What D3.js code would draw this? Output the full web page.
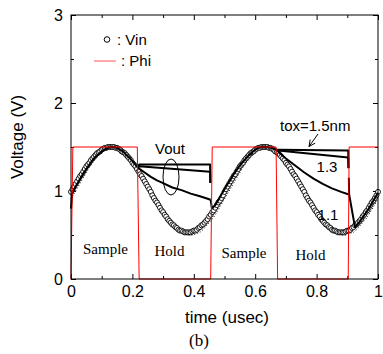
<!DOCTYPE html>
<html>
<head>
<meta charset="utf-8">
<script src="https://cdn.jsdelivr.net/npm/d3@7"></script>
<style>
  body { margin: 0; background: #fff; }
  svg { display: block; }
  .tick text { font-family: "Liberation Sans", Arial, sans-serif; font-size: 16px; fill: #000; }
</style>
</head>
<body>
<svg id="chart" width="383" height="354"></svg>
<script>
// ---- data ----
// Vin (circles), one point every 0.005 usec from t = 0 to t = 1
var vinStep = 0.005;
var vinVolt = [
  0.99,1.02,1.05,1.08,1.11,1.14,1.17,1.19,1.22,1.25,1.28,1.30,1.32,1.35,1.37,1.39,1.41,1.43,1.44,1.45,1.47,1.48,1.49,1.49,1.50,1.50,
  1.50,1.50,1.50,1.49,1.49,1.48,1.47,1.45,1.44,1.43,1.41,1.39,1.37,1.35,1.32,1.30,1.28,1.25,1.22,1.19,1.17,1.14,1.11,1.08,1.05,1.02,0.99,0.95,0.92,0.89,0.87,0.84,0.81,0.78,0.76,0.73,0.71,0.68,0.66,0.64,0.62,0.61,0.59,0.58,0.56,0.55,0.55,0.54,0.53,0.53,0.53,
  0.53,0.53,0.54,0.55,0.55,0.56,0.58,0.59,0.61,0.62,0.64,0.66,0.68,0.71,0.73,0.76,0.78,0.81,0.84,0.87,0.89,0.92,0.95,0.99,1.02,1.05,1.08,1.11,1.14,1.17,1.19,1.22,1.25,1.28,1.30,1.32,1.35,1.37,1.39,1.41,1.43,1.44,1.45,1.47,1.48,1.49,1.49,1.50,1.50,1.50,
  1.50,1.50,1.49,1.49,1.48,1.47,1.45,1.44,1.43,1.41,1.39,1.37,1.35,1.32,1.30,1.28,1.25,1.22,1.19,1.17,1.14,1.11,1.08,1.05,1.02,0.99,0.95,0.92,0.89,0.87,0.84,0.81,0.78,0.76,0.73,0.71,0.68,0.66,0.64,0.62,0.61,0.59,0.58,0.56,0.55,0.55,0.54,0.53,0.53,0.53,
  0.53,0.53,0.54,0.55,0.55,0.56,0.58,0.59,0.61,0.62,0.64,0.66,0.68,0.71,0.73,0.76,0.78,0.81,0.84,0.87,0.89,0.92,0.95,0.99
];

// dotted curve, one point every 0.01 usec
var dotStep = 0.01;
var dotVolt = [
  0.91,0.97,1.03,1.09,1.15,1.21,1.27,1.32,1.36,1.40,1.44,1.47,1.48,1.50,1.50,
  1.50,1.48,1.47,1.44,1.40,1.36,1.32,1.27,1.21,1.15,1.09,1.03,0.97,0.91,0.85,0.79,0.73,0.68,0.64,0.60,0.56,0.53,0.52,0.50,0.50,
  0.50,0.52,0.53,0.56,0.60,0.64,0.68,0.73,0.79,0.85,0.91,0.97,1.03,1.09,1.15,1.21,1.27,1.32,1.36,1.40,1.44,1.47,1.48,1.50,1.50,
  1.50,1.48,1.47,1.44,1.40,1.36,1.32,1.27,1.21,1.15,1.09,1.03,0.97,0.91,0.85,0.79,0.73,0.68,0.64,0.60,0.56,0.53,0.52,0.50,0.50,
  0.50,0.52,0.53,0.56,0.60,0.64,0.68,0.73,0.79,0.85,0.91
];

// Phi clock
var phiTime = [0, 0.006, 0.216, 0.222, 0.455, 0.460, 0.668, 0.673, 0.903, 0.906, 1.0];
var phiVolt = [0, 1.5, 1.5, 0, 0, 1.5, 1.5, 0, 0, 1.5, 1.5];

// Vout while sampling (same for every tox)
var sample1Time = [0,0.004,0.01,0.02,0.03,0.04,0.05,0.06,0.07,0.08,0.09,0.10,0.11,0.12,0.13,0.14,0.15,0.16,0.17,0.18,0.19,0.20,0.21,0.216];
var sample1Volt = [0.80,0.97,1.02,1.08,1.14,1.20,1.25,1.30,1.35,1.39,1.42,1.45,1.47,1.49,1.50,1.50,1.49,1.47,1.45,1.41,1.38,1.34,1.30,1.27];
var sample2Time = [0.455,0.459,0.47,0.48,0.49,0.50,0.51,0.52,0.53,0.54,0.55,0.56,0.57,0.58,0.59,0.60,0.61,0.62,0.63,0.64,0.65,0.66,0.668];
var sample2Volt = [0.90,0.80,0.84,0.90,0.96,1.02,1.08,1.13,1.19,1.24,1.29,1.33,1.37,1.41,1.44,1.47,1.49,1.50,1.50,1.50,1.49,1.48,1.47];
var sample3Time = [0.905,0.906,0.925,0.93,0.94,0.95,0.96,0.97,0.98,0.99,1.0];
var sample3Volt = [1.15,0.96,0.59,0.61,0.65,0.70,0.75,0.80,0.86,0.92,0.98];

// Vout while holding, per oxide thickness (two hold phases each)
var hold15Time = [[0.216,0.222,0.453,0.454],[0.668,0.675,0.903,0.904]];
var hold15Volt = [[1.27,1.30,1.30,1.09],[1.47,1.47,1.46,1.26]];
var hold13Time = [[0.216,0.222,0.453,0.454],[0.668,0.675,0.903,0.904]];
var hold13Volt = [[1.27,1.28,1.22,1.09],[1.47,1.46,1.38,1.26]];
var hold11Time = [[0.216,0.24,0.26,0.28,0.30,0.33,0.36,0.39,0.42,0.455],[0.668,0.70,0.73,0.76,0.79,0.82,0.85,0.88,0.905]];
var hold11Volt = [[1.27,1.21,1.16,1.12,1.09,1.04,1.01,0.97,0.94,0.90],[1.47,1.37,1.29,1.21,1.14,1.08,1.03,0.99,0.96]];

var xMajor = [0, 0.2, 0.4, 0.6, 0.8, 1];
var xMinor = [0.1, 0.3, 0.5, 0.7, 0.9];
var yMajor = [0, 1, 2, 3];
var yMinor = [0.5, 1.5, 2.5];

// ---- layout ----
var margin = {left: 71, top: 15};
var width = 307, height = 264;
var sans = '"Liberation Sans", Arial, sans-serif';
var serif = '"Liberation Serif", "Times New Roman", serif';

var svg = d3.select("#chart");
svg.append("rect").attr("width", 383).attr("height", 354).attr("fill", "#fff");
var g = svg.append("g").attr("transform", "translate(" + margin.left + "," + margin.top + ")");

var x = d3.scaleLinear().domain([0, 1]).range([0, width]);
var y = d3.scaleLinear().domain([0, 3]).range([height, 0]);

function zip(ts, vs) { return ts.map(function(t, i) { return [t, vs[i]]; }); }
var line = d3.line().x(function(d) { return x(d[0]); }).y(function(d) { return y(d[1]); });

// axes (ticks point inward)
function addAxis(axis, tr) {
  var a = g.append("g").attr("transform", tr).call(axis);
  a.select(".domain").remove();
  a.selectAll("line").attr("stroke", "#000");
  return a;
}
addAxis(d3.axisBottom(x).tickValues(xMajor).tickFormat(d3.format("~g")).tickSize(-5).tickPadding(7), "translate(0," + height + ")");
addAxis(d3.axisBottom(x).tickValues(xMinor).tickFormat("").tickSize(-3), "translate(0," + height + ")");
addAxis(d3.axisTop(x).tickValues(xMajor).tickFormat("").tickSize(-5), "translate(0,0)");
addAxis(d3.axisTop(x).tickValues(xMinor).tickFormat("").tickSize(-3), "translate(0,0)");
addAxis(d3.axisLeft(y).tickValues(yMajor).tickFormat(d3.format("d")).tickSize(-5).tickPadding(8), "translate(0,0)");
addAxis(d3.axisLeft(y).tickValues(yMinor).tickFormat("").tickSize(-3), "translate(0,0)");
addAxis(d3.axisRight(y).tickValues(yMajor).tickFormat("").tickSize(-5), "translate(" + width + ",0)");
addAxis(d3.axisRight(y).tickValues(yMinor).tickFormat("").tickSize(-3), "translate(" + width + ",0)");

// dotted curve
g.append("path")
  .datum(dotVolt.map(function(v, i) { return [i * dotStep, v]; }))
  .attr("d", line)
  .attr("fill", "none").attr("stroke", "#000").attr("stroke-width", 1)
  .attr("stroke-dasharray", "1,2");

// Vin circles (white filled, drawn left to right)
g.append("g").selectAll("circle")
  .data(vinVolt.map(function(v, i) { return [i * vinStep, v]; }))
  .enter().append("circle")
  .attr("cx", function(d) { return x(d[0]); })
  .attr("cy", function(d) { return y(d[1]); })
  .attr("r", 2.5)
  .attr("fill", "#fff").attr("stroke", "#000").attr("stroke-width", 0.9);

// Vout lines
var voutSegs = [zip(sample1Time, sample1Volt), zip(sample2Time, sample2Volt), zip(sample3Time, sample3Volt)];
[[hold15Time, hold15Volt], [hold13Time, hold13Volt], [hold11Time, hold11Volt]].forEach(function(h) {
  h[0].forEach(function(ts, k) { voutSegs.push(zip(ts, h[1][k])); });
});
g.append("g").selectAll("path")
  .data(voutSegs)
  .enter().append("path")
  .attr("d", line)
  .attr("fill", "none").attr("stroke", "#000").attr("stroke-width", 2)
  .attr("stroke-linejoin", "round");

// Phi
g.append("path")
  .datum(zip(phiTime, phiVolt))
  .attr("d", line)
  .attr("fill", "none").attr("stroke", "#f00").attr("stroke-width", 1);

// frame
g.append("rect").attr("width", width).attr("height", height)
  .attr("fill", "none").attr("stroke", "#000").attr("stroke-width", 1);

// legend
svg.append("circle").attr("cx", 107).attr("cy", 39.5).attr("r", 2.8)
  .attr("fill", "#fff").attr("stroke", "#000").attr("stroke-width", 1);
svg.append("text").attr("x", 117).attr("y", 45).text(": Vin")
  .attr("font-family", sans).attr("font-size", 15);
svg.append("line").attr("x1", 94).attr("x2", 116).attr("y1", 61).attr("y2", 61)
  .attr("stroke", "#f55").attr("stroke-width", 1);
svg.append("text").attr("x", 121).attr("y", 65.5).text(": Phi")
  .attr("font-family", sans).attr("font-size", 15);

// annotations
function note(txt, px, py, anchor, fam, size) {
  svg.append("text").attr("x", px).attr("y", py).text(txt)
    .attr("text-anchor", anchor).attr("font-family", fam).attr("font-size", size).attr("fill", "#000");
}
note("Vout", 170, 154, "middle", sans, 15);
svg.append("ellipse").attr("cx", 171).attr("cy", 177).attr("rx", 8).attr("ry", 18)
  .attr("fill", "none").attr("stroke", "#000").attr("stroke-width", 1);
note("tox=1.5nm", 280, 131, "start", sans, 15);
note("1.3", 327, 171.5, "middle", sans, 15);
note("1.1", 328, 220, "middle", sans, 15);

// arrow to tox=1.5nm line
var ax1 = 318, ay1 = 134, ax2 = 309, ay2 = 146.5;
svg.append("line").attr("x1", ax1).attr("y1", ay1).attr("x2", ax2).attr("y2", ay2)
  .attr("stroke", "#000").attr("stroke-width", 1);
var ang = Math.atan2(ay1 - ay2, ax1 - ax2);
[-0.45, 0.45].forEach(function(da) {
  svg.append("line").attr("x1", ax2).attr("y1", ay2)
    .attr("x2", ax2 + 7 * Math.cos(ang + da)).attr("y2", ay2 + 7 * Math.sin(ang + da))
    .attr("stroke", "#000").attr("stroke-width", 1);
});

note("Sample", 105.5, 254, "middle", serif, 15);
note("Hold", 169.5, 256, "middle", serif, 15);
note("Sample", 244, 258, "middle", serif, 15);
note("Hold", 310.5, 260, "middle", serif, 15);

// axis titles
note("time (usec)", 227, 323, "middle", sans, 17);
svg.append("text").attr("transform", "translate(23,137) rotate(-90)")
  .attr("text-anchor", "middle").attr("font-family", sans).attr("font-size", 17)
  .text("Voltage (V)");
note("(b)", 199, 346, "middle", serif, 17);
</script>
</body>
</html>
